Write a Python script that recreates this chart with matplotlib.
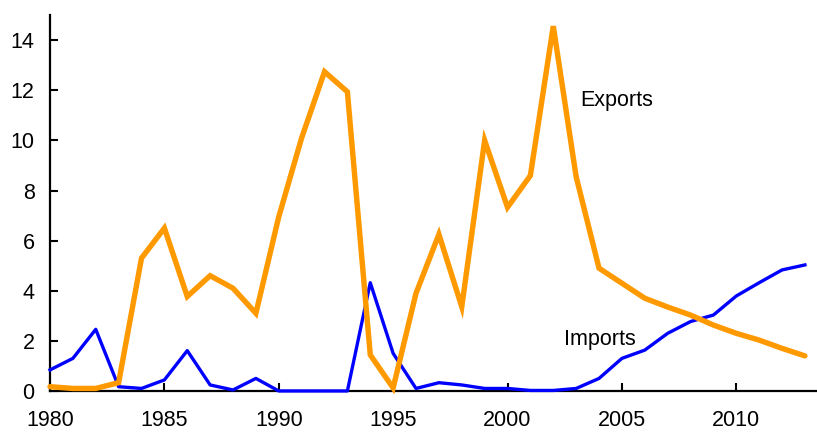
import matplotlib
matplotlib.use('Agg')
import matplotlib.pyplot as plt

plt.rcParams['font.family'] = ['Liberation Sans', 'DejaVu Sans']

years = list(range(1980, 2014))
exports = [0.17, 0.1, 0.1, 0.33, 5.3, 6.5, 3.77, 4.6, 4.1, 3.1,
           6.95, 10.1, 12.74, 11.94, 1.44, 0.12, 3.9, 6.25, 3.36, 10.0,
           7.33, 8.6, 14.56, 8.55, 4.9, 4.3, 3.7, 3.35, 3.03, 2.63,
           2.3, 2.03, 1.7, 1.4]
imports = [0.84, 1.3, 2.46, 0.17, 0.1, 0.44, 1.61, 0.24, 0.04, 0.5,
           0.0, 0.0, 0.0, 0.0, 4.32, 1.5, 0.1, 0.33, 0.24, 0.1,
           0.1, 0.02, 0.02, 0.1, 0.5, 1.3, 1.63, 2.3, 2.77, 3.03,
           3.79, 4.32, 4.83, 5.03]
xticks = [1980, 1985, 1990, 1995, 2000, 2005, 2010]
yticks = [0, 2, 4, 6, 8, 10, 12, 14]

fig = plt.figure(figsize=(8.17, 4.32), dpi=100)
ax = fig.add_axes([0.0612, 0.095, 0.938, 0.87])

# Linien
ax.plot(years, imports, color='#0000FF', linewidth=2.4, clip_on=False, zorder=3)
ax.plot(years, exports, color='#FF9900', linewidth=3.9, clip_on=False, zorder=4,
        solid_capstyle='round', solid_joinstyle='miter')

# Beschriftungen
ax.text(2003.2, 11.6, 'Exports', fontsize=15.5, ha='left', va='center')
ax.text(2002.45, 2.05, 'Imports', fontsize=15.5, ha='left', va='center')

ax.set_xlim(1980, 2013.5)
ax.set_ylim(0, 15)
ax.set_xticks(xticks)
ax.set_yticks(yticks)

for side in ['top', 'right']:
    ax.spines[side].set_visible(False)
for side in ['left', 'bottom']:
    ax.spines[side].set_linewidth(1.6)

ax.tick_params(axis='both', direction='in', length=5.5, width=1.5, labelsize=15.5)
ax.tick_params(axis='x', pad=14)
ax.tick_params(axis='y', pad=11)

fig.savefig('out.png', dpi=100)
